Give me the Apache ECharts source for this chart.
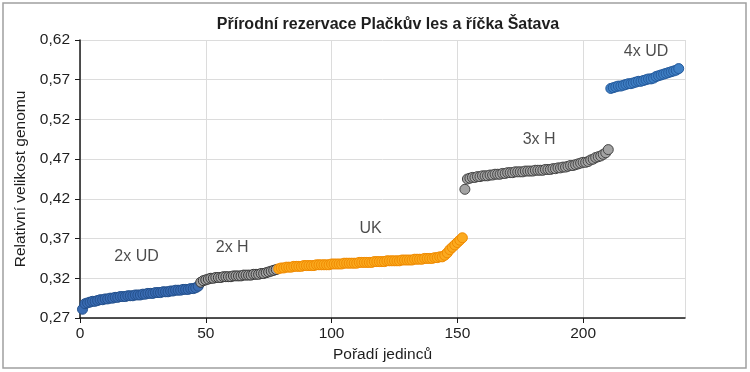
<!DOCTYPE html>
<html>
<head>
<meta charset="utf-8">
<script src="https://cdn.jsdelivr.net/npm/echarts@6/dist/echarts.min.js"></script>
<style>html,body{margin:0;padding:0;background:#fff}#c{width:750px;height:372px}</style>
</head>
<body>
<div id="c"></div>
<script>
// Data (x = order index, y = relative genome size)
var ud2Start = 1;
var ud2Values = [0.281,0.288,0.289,0.290,0.291,0.291,0.292,0.293,0.293,0.294,0.294,0.295,0.295,0.296,0.296,0.297,0.297,0.297,0.298,0.298,0.298,0.299,0.299,0.299,0.300,0.300,0.301,0.301,0.301,0.302,0.302,0.302,0.303,0.303,0.303,0.304,0.304,0.305,0.305,0.305,0.306,0.306,0.306,0.307,0.307,0.308,0.310];
var h2Start = 48;
var h2Values = [0.315,0.317,0.318,0.319,0.320,0.320,0.321,0.321,0.321,0.322,0.322,0.322,0.322,0.323,0.323,0.323,0.323,0.324,0.324,0.324,0.324,0.325,0.325,0.325,0.326,0.326,0.327,0.328,0.329,0.330,0.331];
var ukStart = 79;
var ukValues = [0.332,0.333,0.333,0.334,0.334,0.334,0.335,0.335,0.335,0.335,0.336,0.336,0.336,0.336,0.336,0.337,0.337,0.337,0.337,0.337,0.337,0.338,0.338,0.338,0.338,0.338,0.339,0.339,0.339,0.339,0.339,0.339,0.340,0.340,0.340,0.340,0.340,0.340,0.341,0.341,0.341,0.341,0.341,0.342,0.342,0.342,0.342,0.342,0.342,0.343,0.343,0.343,0.343,0.343,0.344,0.344,0.344,0.344,0.345,0.345,0.345,0.345,0.346,0.346,0.347,0.347,0.349,0.352,0.356,0.359,0.362,0.365,0.368,0.371];
var h3Start = 153;
var h3Values = [0.432,0.445,0.446,0.447,0.447,0.448,0.448,0.449,0.449,0.449,0.450,0.450,0.451,0.451,0.451,0.452,0.452,0.453,0.453,0.453,0.454,0.454,0.454,0.454,0.455,0.455,0.455,0.455,0.456,0.456,0.456,0.456,0.457,0.457,0.457,0.458,0.458,0.459,0.459,0.460,0.460,0.461,0.462,0.462,0.463,0.464,0.465,0.466,0.466,0.467,0.469,0.470,0.472,0.473,0.474,0.476,0.478,0.482];
var ud4Start = 211;
var ud4Values = [0.559,0.560,0.561,0.562,0.562,0.563,0.564,0.565,0.565,0.566,0.567,0.568,0.568,0.569,0.570,0.571,0.571,0.572,0.574,0.575,0.576,0.577,0.578,0.579,0.580,0.581,0.582,0.584];

var xTicks = [0, 50, 100, 150, 200];
var yTicks = [0.27, 0.32, 0.37, 0.42, 0.47, 0.52, 0.57, 0.62];

var groupLabels = ['2x UD', '2x H', 'UK', '3x H', '4x UD'];
var groupLabelX = [22.5, 60.5, 115.5, 182.5, 225];
var groupLabelY = [0.347, 0.359, 0.382, 0.494, 0.605];

function pairs(start, vals) {
  return vals.map(function (v, k) { return [start + k, v]; });
}

var chart = echarts.init(document.getElementById('c'), null, {renderer: 'canvas'});
var FONT = 'Liberation Sans, Arial, Helvetica, sans-serif';
var txt = '#1e1e1e';

function sc(name, data, fill, border) {
  return {
    name: name, type: 'scatter', data: data, symbol: 'circle', symbolSize: 10,
    itemStyle: {color: fill, borderColor: border, borderWidth: 1, opacity: 1},
    emphasis: {disabled: true}, animation: false, z: 3
  };
}

var series = [
  sc('2x UD', pairs(ud2Start, ud2Values), '#3a6cb3', '#23508c'),
  sc('2x H', pairs(h2Start, h2Values), '#a3a3a3', '#383838'),
  sc('UK', pairs(ukStart, ukValues), '#fbaa1f', '#f08a00'),
  sc('3x H', pairs(h3Start, h3Values), '#a3a3a3', '#454545'),
  sc('4x UD', pairs(ud4Start, ud4Values), '#3f7fc4', '#245a9c')
];
series.push({
  type: 'scatter', data: groupLabels.map(function (t, i) { return {value: [groupLabelX[i], groupLabelY[i]], name: t}; }),
  symbolSize: 0, silent: true, animation: false, z: 5,
  label: {show: true, position: 'inside', formatter: '{b}', fontFamily: FONT, fontSize: 16, color: txt}
});

chart.setOption({
  animation: false,
  backgroundColor: '#fff',
  title: {
    text: 'Přírodní rezervace Plačkův les a říčka Šatava',
    left: 383, top: 12, textAlign: 'center',
    textStyle: {fontFamily: FONT, fontSize: 16, fontWeight: 'bold', color: txt}
  },
  grid: {left: 80, right: 65, top: 40, bottom: 54, containLabel: false},
  xAxis: {
    type: 'value', min: 0, max: 240.5, interval: 50,
    name: 'Pořadí jedinců', nameLocation: 'middle', nameGap: 27,
    nameTextStyle: {fontFamily: FONT, fontSize: 15.5, color: txt},
    axisLine: {show: true, onZero: false, lineStyle: {color: '#1a1a1a', width: 1.5}},
    axisTick: {show: true, length: 5, lineStyle: {color: '#1a1a1a'}},
    axisLabel: {fontFamily: FONT, fontSize: 15.5, color: txt, margin: 8, showMaxLabel: false,
      formatter: function (v) { return xTicks.indexOf(v) >= 0 ? String(v) : ''; }},
    splitLine: {show: true, lineStyle: {color: '#dcdcdc', width: 1}}
  },
  yAxis: {
    type: 'value', min: 0.27, max: 0.62, interval: 0.05,
    name: 'Relativní velikost genomu', nameLocation: 'middle', nameGap: 50,
    nameTextStyle: {fontFamily: FONT, fontSize: 15.5, color: txt},
    axisLine: {show: true, onZero: false, lineStyle: {color: '#1a1a1a', width: 1.5}},
    axisTick: {show: true, length: 5, lineStyle: {color: '#1a1a1a'}},
    axisLabel: {fontFamily: FONT, fontSize: 15.5, color: txt, margin: 10,
      formatter: function (v) { return v.toFixed(2).replace('.', ','); }},
    splitLine: {show: true, lineStyle: {color: '#dcdcdc', width: 1}}
  },
  graphic: [{
    type: 'rect', shape: {x: 3, y: 3, width: 743, height: 365},
    style: {fill: 'none', stroke: '#a0a0a0', lineWidth: 1.5}, silent: true, z: 10
  }],
  series: series
});
</script>
</body>
</html>
